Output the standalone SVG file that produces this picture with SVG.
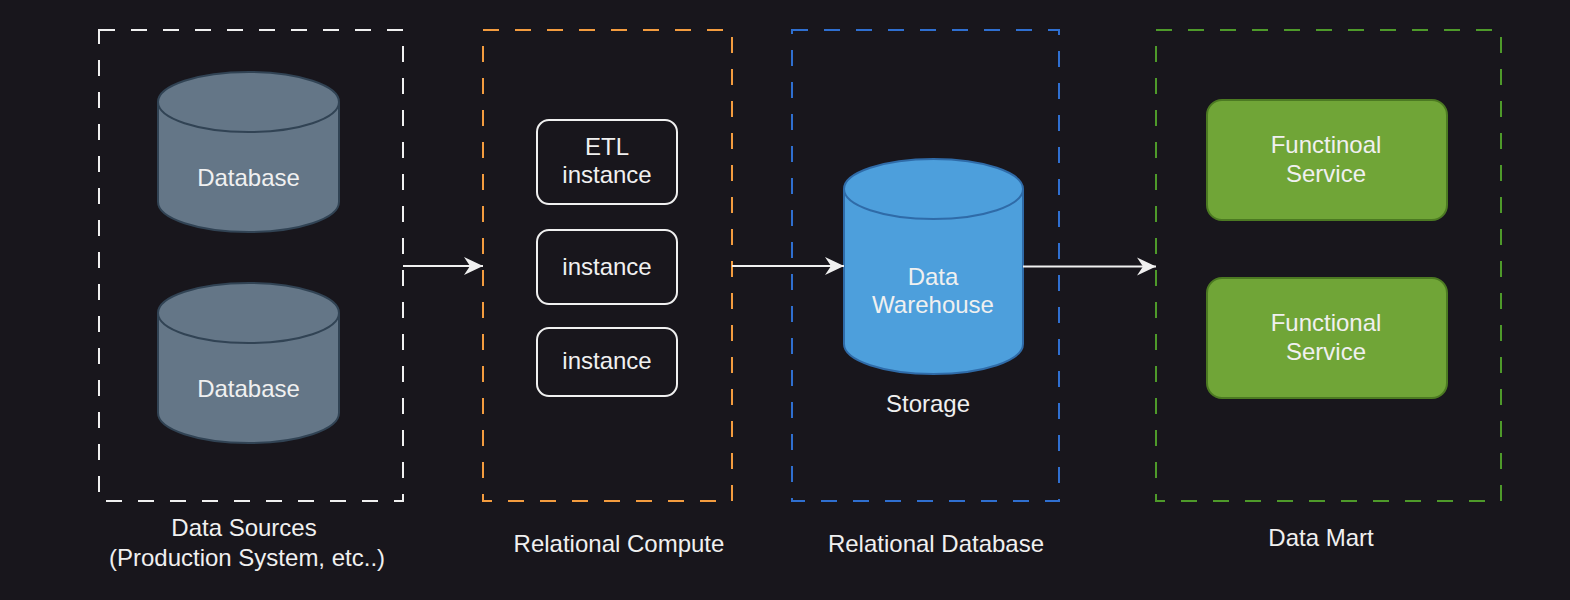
<svg xmlns="http://www.w3.org/2000/svg" width="1570" height="600" viewBox="0 0 1570 600">
<style>
  text { font-family: "Liberation Sans", Arial, Helvetica, sans-serif; font-size: 24px; fill: #f0f0f0; text-anchor: middle; }
  .grp { fill: none; stroke-width: 2; stroke-dasharray: 16 16; }
  .db { fill: #647687; stroke: #314354; stroke-width: 2; }
  .dw { fill: #4d9fdc; stroke: #2f6ba8; stroke-width: 2; }
  .inst { fill: none; stroke: #f0f0f0; stroke-width: 2; }
  .svc { fill: #70a537; stroke: #4c7a22; stroke-width: 2; }
  .edge { stroke: #f0f0f0; stroke-width: 2; fill: none; }
</style>
<defs>
  <marker id="arr" markerUnits="userSpaceOnUse" markerWidth="20" markerHeight="20" refX="19" refY="10" orient="auto">
    <path d="M19,10 L0,1 L6,10 L0,19 Z" fill="#f0f0f0"/>
  </marker>
</defs>
<rect width="1570" height="600" fill="#18161c"/>

<g id="group-sources">
  <rect class="grp" x="99" y="30" width="304" height="471" stroke="#f0f0f0"/>
  <text x="244" y="536">Data Sources</text>
  <text x="247" y="566">(Production System, etc..)</text>
</g>
<g id="group-compute">
  <rect class="grp" x="483" y="30" width="249" height="471" stroke="#f39c3f"/>
  <text x="619" y="552">Relational Compute</text>
</g>
<g id="group-rdb">
  <rect class="grp" x="792" y="30" width="267" height="471" stroke="#2f6fd0"/>
  <text x="936" y="552">Relational Database</text>
</g>
<g id="group-mart">
  <rect class="grp" x="1156" y="30" width="345" height="471" stroke="#4e9a2a"/>
  <text x="1321" y="546">Data Mart</text>
</g>

<g id="db1">
  <path class="db" d="M158,102 A90.5,30 0 0 1 339,102 L339,202 A90.5,30 0 0 1 158,202 Z"/>
  <path class="db" fill="none" d="M158,102 A90.5,30 0 0 0 339,102"/>
  <text x="248.5" y="186">Database</text>
</g>
<g id="db2">
  <path class="db" d="M158,313 A90.5,30 0 0 1 339,313 L339,413 A90.5,30 0 0 1 158,413 Z"/>
  <path class="db" fill="none" d="M158,313 A90.5,30 0 0 0 339,313"/>
  <text x="248.5" y="397">Database</text>
</g>

<g id="etl">
  <rect class="inst" x="537" y="120" width="140" height="84" rx="12"/>
  <text x="607" y="155">ETL</text>
  <text x="607" y="183">instance</text>
</g>
<g id="inst2">
  <rect class="inst" x="537" y="230" width="140" height="74" rx="12"/>
  <text x="607" y="275">instance</text>
</g>
<g id="inst3">
  <rect class="inst" x="537" y="328" width="140" height="68" rx="12"/>
  <text x="607" y="369">instance</text>
</g>

<g id="dw">
  <path class="dw" d="M844,189 A89.5,30 0 0 1 1023,189 L1023,344 A89.5,30 0 0 1 844,344 Z"/>
  <path class="dw" fill="none" d="M844,189 A89.5,30 0 0 0 1023,189"/>
  <text x="933" y="285">Data</text>
  <text x="933" y="313">Warehouse</text>
</g>
<g id="storage-label">
  <text x="928" y="412">Storage</text>
</g>

<g id="svc1">
  <rect class="svc" x="1207" y="100" width="240" height="120" rx="15"/>
  <text x="1326" y="153">Functinoal</text>
  <text x="1326" y="182">Service</text>
</g>
<g id="svc2">
  <rect class="svc" x="1207" y="278" width="240" height="120" rx="15"/>
  <text x="1326" y="331">Functional</text>
  <text x="1326" y="360">Service</text>
</g>

<g id="connectors">
  <line class="edge" x1="403" y1="266" x2="483" y2="266" marker-end="url(#arr)"/>
  <line class="edge" x1="732" y1="266" x2="844" y2="266" marker-end="url(#arr)"/>
  <line class="edge" x1="1023" y1="266.5" x2="1156" y2="266.5" marker-end="url(#arr)"/>
</g>
</svg>
